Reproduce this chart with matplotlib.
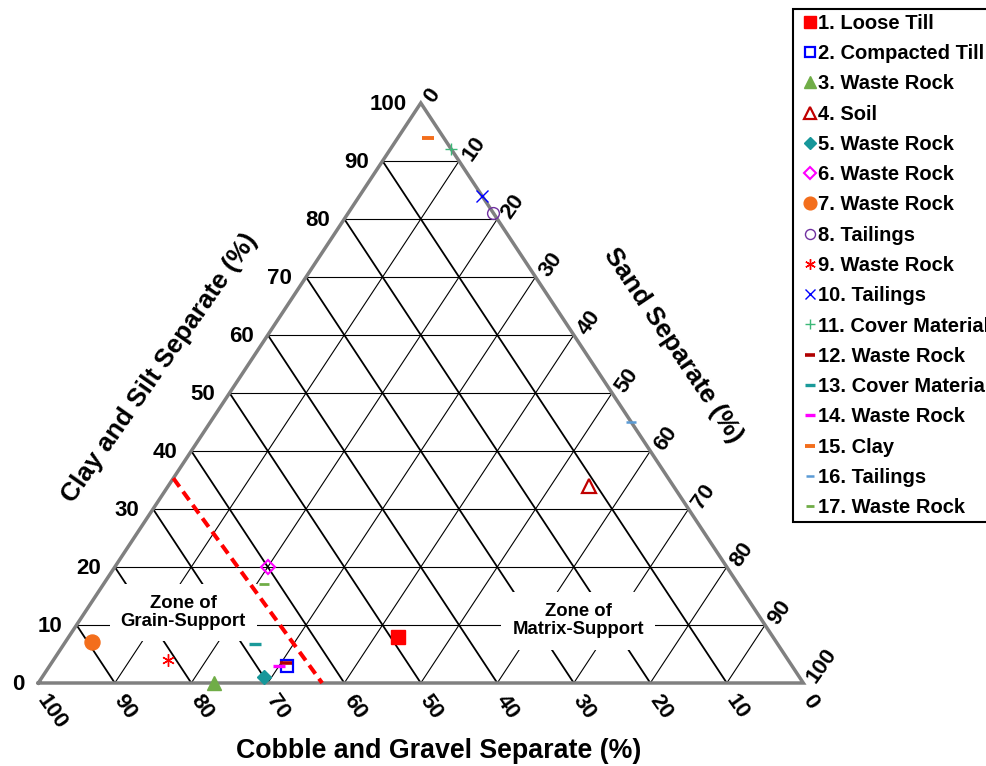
import matplotlib
matplotlib.use("Agg")
import matplotlib.pyplot as plt
import numpy as np

plt.rcParams['font.family'] = ['Liberation Sans', 'DejaVu Sans']
plt.rcParams['font.weight'] = 'bold'

# ---------------- data ----------------
labels = ["1. Loose Till", "2. Compacted Till", "3. Waste Rock", "4. Soil",
          "5. Waste Rock", "6. Waste Rock", "7. Waste Rock", "8. Tailings",
          "9. Waste Rock", "10. Tailings", "11. Cover Material",
          "12. Waste Rock", "13. Cover Material", "14. Waste Rock",
          "15. Clay", "16. Tailings", "17. Waste Rock"]
clay_silt = [8, 3, 0, 34, 1, 20, 7, 81, 4, 84, 92, 3.5, 6.7, 3, 94, 45, 17]
sand = [43, 31, 23, 55, 29, 20, 3.5, 19, 15, 16, 8, 30.6, 25, 30, 4, 55, 21]
gravel = [100 - c - s for c, s in zip(clay_silt, sand)]

tick_values = [0, 10, 20, 30, 40, 50, 60, 70, 80, 90, 100]
grid_values = [10, 20, 30, 40, 50, 60, 70, 80, 90]

# grain / matrix support boundary (dashed red line)
boundary_clay = [35.3, 0.0]
boundary_sand = [0.0, 37.1]

title_clay = "Clay and Silt Separate (%)"
title_sand = "Sand Separate (%)"
title_gravel = "Cobble and Gravel Separate (%)"
zone_grain = "Zone of\nGrain-Support"
zone_matrix = "Zone of\nMatrix-Support"

# ---------------- styles ----------------
styles = [
    dict(marker='s', ms=10.5, mfc='#FF0000', mec='#FF0000'),
    dict(marker='s', ms=9.2, mfc='none', mec='#0000FF', mew=1.6),
    dict(marker='^', ms=10.5, mfc='#70AD47', mec='#70AD47'),
    dict(marker='^', ms=9.5, mfc='none', mec='#C00000', mew=1.6),
    dict(marker='D', ms=7.0, mfc='#17979A', mec='#17979A'),
    dict(marker='D', ms=6.8, mfc='none', mec='#FF00FF', mew=1.5),
    dict(marker='o', ms=10.8, mfc='#F36E1C', mec='#F36E1C'),
    dict(marker='o', ms=8.5, mfc='none', mec='#7030A0', mew=1.0),
    dict(marker=(6, 2, 0), ms=9, mfc='#FF0000', mec='#FF0000', mew=1.0),
    dict(marker='x', ms=9, mfc='#0000FF', mec='#0000FF', mew=1.0),
    dict(marker='+', ms=9, mfc='#3CB878', mec='#3CB878', mew=1.0),
    dict(marker='_', ms=8.0, mfc='#B00000', mec='#B00000', mew=2.6),
    dict(marker='_', ms=8.8, mfc='#1A9A9A', mec='#1A9A9A', mew=2.4),
    dict(marker='_', ms=8.0, mfc='#FF00FF', mec='#FF00FF', mew=2.4),
    dict(marker='_', ms=9.0, mfc='#F36E1C', mec='#F36E1C', mew=2.8),
    dict(marker='_', ms=7.0, mfc='#5B9BD5', mec='#5B9BD5', mew=1.8),
    dict(marker='_', ms=7.5, mfc='#70AD47', mec='#70AD47', mew=2.0),
]

# ---------------- figure / geometry ----------------
W, H = 987, 766
fig = plt.figure(figsize=(W / 100, H / 100), dpi=100)
ax = fig.add_axes([0, 0, 1, 1])
x0_px, x1_px, ybase_px, ytop_px = 38.3, 803.3, 683.0, 103.0
sx = (x1_px - x0_px) / 100.0
sy = (ybase_px - ytop_px) / 100.0
ax.set_xlim(-x0_px / sx, (W - x0_px) / sx)
ax.set_ylim(-(H - ybase_px) / sy, ybase_px / sy)
ax.axis('off')


def tern(c, s):
    c = np.asarray(c, float)
    s = np.asarray(s, float)
    return s + c / 2.0, c


# grid lines
for v in grid_values:
    # constant clay/silt (horizontal)
    x, y = tern([v, v], [0, 100 - v])
    ax.plot(x, y, color='black', lw=0.8, zorder=1, solid_capstyle='butt')
    # constant sand (parallel to left edge)
    x, y = tern([0, 100 - v], [v, v])
    ax.plot(x, y, color='black', lw=0.8, zorder=1, solid_capstyle='butt')
    # constant gravel (parallel to right edge)
    x, y = tern([100 - v, 0], [0, 100 - v])
    ax.plot(x, y, color='black', lw=1.3, zorder=1, solid_capstyle='butt')

# triangle edges
x, y = tern([0, 0, 100, 0], [0, 100, 0, 0])
ax.plot(x, y, color='#808080', lw=2.5, zorder=3, solid_joinstyle='miter')

# zone labels
zx, zy = tern(12.1, 12.9)
ax.text(zx, zy, zone_grain, ha='center', va='center', fontsize=13.3,
        fontweight='bold', linespacing=1.08, zorder=2,
        bbox=dict(boxstyle='square,pad=0.6', fc='white', ec='none'))
zx, zy = tern(10.7, 65.2)
ax.text(zx, zy, zone_matrix, ha='center', va='center', fontsize=13.3,
        fontweight='bold', linespacing=1.08, zorder=2,
        bbox=dict(boxstyle='square,pad=0.6', fc='white', ec='none'))

# boundary line
bx, by = tern(boundary_clay, boundary_sand)
ax.plot(bx, by, color='#FF0000', lw=2.9, ls=(0, (2.6, 1.5)), zorder=4)

# data points
handles = []
for lab, c, s, st in zip(labels, clay_silt, sand, styles):
    px, py = tern(c, s)
    h, = ax.plot([px], [py], ls='none', label=lab, zorder=5, clip_on=False, **st)
    handles.append(h)

# tick labels
tick_fs = 16
for v in tick_values:
    # clay & silt (left edge)
    px, py = tern(v, 0)
    ax.annotate(str(v), xy=(px, py), xytext=(-14, -1.5), textcoords='offset pixels',
                ha='right', va='center', fontsize=tick_fs, fontweight='bold')
    # sand (right edge)
    px, py = tern(100 - v, v)
    ax.annotate(str(v), xy=(px, py), xytext=(8, 2), textcoords='offset pixels',
                ha='left', va='center', rotation=55, rotation_mode='anchor',
                fontsize=tick_fs, fontweight='bold')
    # cobble & gravel (bottom edge)
    px, py = tern(0, 100 - v)
    ax.annotate(str(v), xy=(px, py), xytext=(3, -14), textcoords='offset pixels',
                ha='left', va='center', rotation=-55, rotation_mode='anchor',
                fontsize=tick_fs, fontweight='bold')

# axis titles
fig.text(160 / W, 1 - 368 / H, title_clay, rotation=55, rotation_mode='anchor',
         ha='center', va='center', fontsize=18.8, fontweight='bold')
fig.text(673 / W, 1 - 345 / H, title_sand, rotation=-56, rotation_mode='anchor',
         ha='center', va='center', fontsize=18.8, fontweight='bold')
fig.text(438.5 / W, 1 - 751 / H, title_gravel, ha='center', va='center',
         fontsize=19.3, fontweight='bold')

# legend (extends past the right edge of the figure, as in the original)
leg = fig.legend(handles=handles, loc='upper left',
                 bbox_to_anchor=(793 / W, 1 - 9.3 / H), borderaxespad=0,
                 prop=dict(weight='bold', size=14.5),
                 frameon=True, fancybox=False, framealpha=1, edgecolor='black',
                 borderpad=0.22, labelspacing=0.56, handlelength=1.2,
                 handletextpad=-0.17, numpoints=1, markerscale=0.85)
leg.get_frame().set_linewidth(1.5)

fig.savefig('out.png', dpi=100)
